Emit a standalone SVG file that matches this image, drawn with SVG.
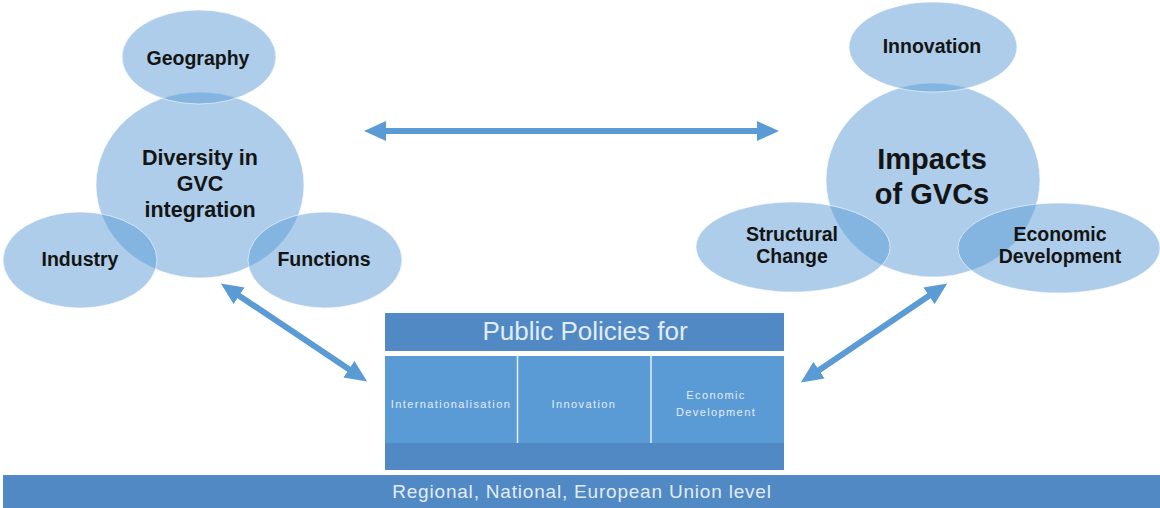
<svg xmlns="http://www.w3.org/2000/svg" width="1160" height="508" viewBox="0 0 1160 508">
  <defs>
    <style>
      .blob { fill: #5b9bd5; fill-opacity: 0.5; stroke: #ffffff; stroke-opacity: 0.6; stroke-width: 1; }
      .lbl { font-family: "Liberation Sans", Arial, sans-serif; font-weight: bold; fill: #141414; text-anchor: middle; }
      .small { font-size: 19.5px; }
      .mid { font-size: 21.5px; }
      .big { font-size: 29px; }
      .link { stroke: #5b9bd5; stroke-width: 6; fill: none; marker-start: url(#head); marker-end: url(#head); }
      .bar { fill: #5089c4; }
      .cell { fill: #5b9bd5; }
      .sep { stroke: #ffffff; stroke-width: 1.5; stroke-opacity: 0.85; }
      .pol { font-family: "Liberation Sans", Arial, sans-serif; fill: #e2ecf7; text-anchor: middle; }
    </style>
    <marker id="head" viewBox="0 0 22 20" refX="1" refY="10" markerWidth="22" markerHeight="20" markerUnits="userSpaceOnUse" orient="auto-start-reverse">
      <path d="M0,0 L22,10 L0,20 Z" fill="#5b9bd5"/>
    </marker>
  </defs>

  <rect width="1160" height="508" fill="#ffffff"/>

  <!-- left cluster: diversity of integration -->
  <g id="diversity">
    <ellipse class="blob" cx="200" cy="185" rx="104" ry="93"/>
    <text class="lbl mid" x="200" y="165">Diversity in</text>
    <text class="lbl mid" x="200" y="191">GVC</text>
    <text class="lbl mid" x="200" y="217">integration</text>
  </g>
  <g id="geography">
    <ellipse class="blob" cx="199" cy="57" rx="77" ry="47"/>
    <text class="lbl small" x="198" y="65">Geography</text>
  </g>
  <g id="industry">
    <ellipse class="blob" cx="80" cy="260" rx="77" ry="48"/>
    <text class="lbl small" x="80" y="266">Industry</text>
  </g>
  <g id="functions">
    <ellipse class="blob" cx="325" cy="260" rx="77" ry="48"/>
    <text class="lbl small" x="324" y="266">Functions</text>
  </g>

  <!-- right cluster: impacts -->
  <g id="impacts">
    <ellipse class="blob" cx="933" cy="180" rx="107" ry="97"/>
    <text class="lbl big" x="932" y="169">Impacts</text>
    <text class="lbl big" x="932" y="204">of GVCs</text>
  </g>
  <g id="innovation">
    <ellipse class="blob" cx="933" cy="47" rx="84" ry="45"/>
    <text class="lbl small" x="932" y="53">Innovation</text>
  </g>
  <g id="structural-change">
    <ellipse class="blob" cx="793" cy="247" rx="97" ry="45"/>
    <text class="lbl small" x="792" y="241">Structural</text>
    <text class="lbl small" x="792" y="263">Change</text>
  </g>
  <g id="economic-development">
    <ellipse class="blob" cx="1059" cy="248" rx="101" ry="45"/>
    <text class="lbl small" x="1060" y="241">Economic</text>
    <text class="lbl small" x="1060" y="263">Development</text>
  </g>

  <!-- policy table -->
  <g id="public-policies">
    <rect class="bar" x="385" y="313" width="399" height="38"/>
    <text class="pol" x="585" y="340" font-size="26">Public Policies for</text>
    <rect class="cell" x="385" y="356" width="399" height="88"/>
    <rect class="bar" x="385" y="443" width="399" height="27" fill="#4f87bf"/>
    <line class="sep" x1="517.5" y1="356" x2="517.5" y2="443"/>
    <line class="sep" x1="651" y1="356" x2="651" y2="443"/>
    <text class="pol" x="451" y="408" font-size="11" letter-spacing="1.4">Internationalisation</text>
    <text class="pol" x="584" y="408" font-size="11" letter-spacing="1.4">Innovation</text>
    <text class="pol" x="716" y="399" font-size="11" letter-spacing="1.4">Economic</text>
    <text class="pol" x="716" y="416" font-size="11" letter-spacing="1.4">Development</text>
  </g>

  <!-- governance level band -->
  <g id="levels">
    <rect class="bar" x="3" y="475" width="1157" height="33" fill="#4f8bc3"/>
    <text class="pol" x="582" y="498" font-size="19" letter-spacing="0.8">Regional, National, European Union level</text>
  </g>

  <!-- two-way links -->
  <g id="connectors">
    <line class="link" x1="385" y1="131" x2="758" y2="131"/>
    <line class="link" x1="238.3" y1="295.2" x2="349.7" y2="369.8"/>
    <line class="link" x1="818.2" y1="370.7" x2="929.8" y2="295.3"/>
  </g>
</svg>
